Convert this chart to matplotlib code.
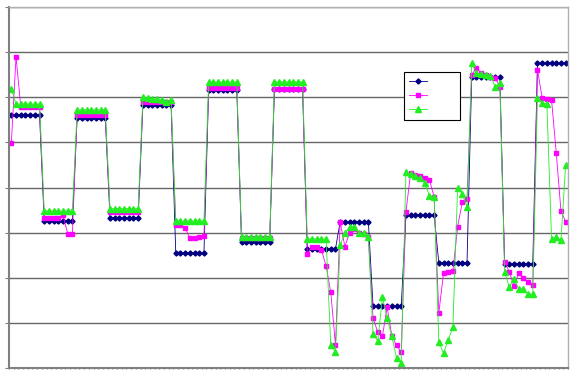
import numpy as np
import matplotlib.pyplot as plt

# 17 runs of 7 samples each
series_a = [5.61]*7 + [3.26]*7 + [5.55]*7 + [3.33]*7 + [5.83]*7 + [2.55]*7 + \
    [6.16]*7 + [2.80]*7 + [6.18]*7 + [2.64]*7 + [3.24]*7 + [1.37]*7 + \
    [3.39]*7 + [2.33]*7 + [6.45]*7 + [2.31]*7 + [6.76]*7

series_b = [4.99, 6.90, 5.79, 5.79, 5.79, 5.79, 5.79,
            3.33, 3.33, 3.33, 3.33, 3.38, 2.98, 2.98,
            5.60, 5.60, 5.60, 5.60, 5.60, 5.60, 5.60,
            3.46, 3.46, 3.46, 3.46, 3.46, 3.46, 3.46,
            5.90, 5.90, 5.90, 5.90, 5.90, 5.90, 5.90,
            3.17, 3.17, 3.10, 2.88, 2.88, 2.90, 2.93,
            6.20, 6.20, 6.20, 6.20, 6.20, 6.20, 6.20,
            2.89, 2.89, 2.89, 2.89, 2.89, 2.89, 2.89,
            6.18, 6.18, 6.18, 6.18, 6.18, 6.18, 6.18,
            2.53, 2.69, 2.69, 2.62, 2.26, 1.68, 0.51,
            3.24, 2.69, 3.00, 3.08, 3.00, 2.97, 2.90,
            1.10, 0.80, 0.71, 1.35, 0.71, 0.50, 0.35,
            3.46, 4.32, 4.28, 4.25, 4.20, 4.16, 3.80,
            1.22, 2.10, 2.13, 2.15, 3.13, 3.68, 3.75,
            6.50, 6.65, 6.53, 6.50, 6.45, 6.43, 6.23,
            2.35, 2.13, 1.82, 2.10, 2.00, 1.90, 1.85,
            6.61, 5.99, 5.96, 5.94, 4.77, 3.48, 3.24]

series_c = [6.19, 5.85, 5.85, 5.85, 5.85, 5.85, 5.85,
            3.48, 3.48, 3.48, 3.48, 3.48, 3.48, 3.48,
            5.72, 5.72, 5.72, 5.72, 5.72, 5.72, 5.72,
            3.53, 3.53, 3.53, 3.53, 3.53, 3.53, 3.53,
            6.00, 5.98, 5.97, 5.96, 5.95, 5.90, 5.95,
            3.26, 3.26, 3.26, 3.26, 3.26, 3.26, 3.26,
            6.34, 6.34, 6.34, 6.34, 6.34, 6.34, 6.34,
            2.90, 2.90, 2.90, 2.90, 2.90, 2.90, 2.90,
            6.34, 6.34, 6.34, 6.34, 6.34, 6.34, 6.34,
            2.86, 2.86, 2.86, 2.86, 2.86, 0.51, 0.35,
            2.73, 2.99, 3.13, 3.13, 2.99, 2.99, 2.90,
            0.75, 0.60, 1.57, 1.10, 0.70, 0.22, 0.11,
            4.35, 4.30, 4.25, 4.20, 4.10, 3.82, 3.80,
            0.58, 0.33, 0.62, 0.91, 3.99, 3.86, 3.57,
            6.76, 6.54, 6.52, 6.50, 6.48, 6.23, 6.32,
            2.13, 1.80, 1.97, 1.75, 1.75, 1.64, 1.64,
            5.98, 5.88, 5.85, 2.86, 2.90, 2.84, 4.50]

x = np.arange(len(series_a))

fig = plt.figure(figsize=(5.72, 3.73), dpi=100)
ax = fig.add_axes([9/572, 5/373, 559/572, 361/373])

ax.plot(x, series_a, color='#000080', lw=0.6, marker='D', ms=2.6, label=' ')
ax.plot(x, series_b, color='#ff00ff', lw=0.6, marker='s', ms=3.4, label=' ')
ax.plot(x, series_c, color='#22ee22', lw=0.6, marker='^', ms=3.8, label=' ')

ax.set_xlim(-0.5, len(x) - 0.5)
ax.set_ylim(0, 8)
ax.set_yticks(np.arange(0, 9))
ax.set_yticklabels([])
ax.set_xticks(np.arange(-0.5, len(x), 1))
ax.set_xticklabels([])
ax.tick_params(axis='x', length=2, direction='inout', color='#808080')
ax.tick_params(axis='y', length=3, direction='out', color='#808080')
ax.grid(axis='y', color='#666666', lw=1.0)
ax.set_axisbelow(True)
for s in ['left', 'bottom']:
    ax.spines[s].set_color('#808080')
    ax.spines[s].set_linewidth(1.5)
for s in ['top', 'right']:
    ax.spines[s].set_color('#b0b0b0')
    ax.spines[s].set_linewidth(1.0)

leg = ax.legend(loc='upper left', bbox_to_anchor=(404/572, 1 - 72/373),
                bbox_transform=fig.transFigure, fontsize=8, handlelength=1.6,
                handletextpad=2.2, borderpad=0.45, labelspacing=0.35,
                fancybox=False, framealpha=1, edgecolor='black', borderaxespad=0)
leg.get_frame().set_linewidth(0.8)

fig.savefig('out.png', dpi=100)
